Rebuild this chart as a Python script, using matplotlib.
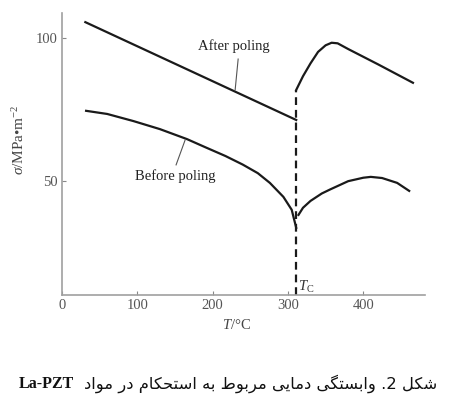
import matplotlib
matplotlib.use("Agg")
import matplotlib.pyplot as plt

# ---- data ----
after_low_T = [31, 311]
after_low_s = [105.4, 71.2]
after_high_T = [311, 320, 330, 340, 350, 358, 366, 380, 420, 466]
after_high_s = [81.7, 86.5, 91.0, 95.0, 97.3, 98.2, 98.0, 96.0, 90.6, 84.2]

before_low_T = [32, 60, 95, 130, 166, 190, 217, 240, 260, 276, 294, 305, 311]
before_low_s = [74.4, 73.3, 70.8, 68.0, 64.5, 61.7, 58.6, 55.6, 52.6, 49.2, 44.3, 39.8, 33.5]
before_high_T = [314, 320, 330, 345, 356, 380, 400, 410, 425, 445, 461]
before_high_s = [38.0, 40.5, 42.9, 45.5, 46.9, 49.8, 51.0, 51.3, 50.9, 49.2, 46.4]

Tc = 311
Tc_top = 81.7
x_ticks = [0, 100, 200, 300, 400]
y_ticks = [50, 100]

plt.rcParams['font.family'] = ['Liberation Serif', 'DejaVu Sans']
plt.rcParams['mathtext.fontset'] = 'custom'
plt.rcParams['mathtext.rm'] = 'Liberation Serif'
plt.rcParams['mathtext.it'] = 'Liberation Serif:italic'

fig = plt.figure(figsize=(4.5, 4.09), dpi=100)
ax = fig.add_axes([62/450, 1-295/409, (425-62)/450, (295-13)/409])
ax.set_xlim(0, 482)
ax.set_ylim(10, 108.6)

lw = 1.6
ax.plot(after_low_T, after_low_s, color='#1a1a1a', lw=lw)
ax.plot(after_high_T, after_high_s, color='#1a1a1a', lw=lw)
ax.plot(before_low_T, before_low_s, color='#1a1a1a', lw=lw)
ax.plot(before_high_T, before_high_s, color='#1a1a1a', lw=lw)
ax.plot([Tc, Tc], [10, Tc_top], color='#1a1a1a', lw=1.6, ls=(0, (3.5, 2.2)))

for s in ['top', 'right']:
    ax.spines[s].set_visible(False)
for s in ['left', 'bottom']:
    ax.spines[s].set_color('#a0a0a0')
    ax.spines[s].set_linewidth(1.2)

ax.set_xticks(x_ticks)
ax.set_yticks(y_ticks)
ax.tick_params(direction='in', length=3, color='#888888', labelcolor='#555555',
               labelsize=10.5, pad=3)

ax.text(228, 97.1, 'After poling', fontsize=10.5, ha='center', va='center', color='#222222')
ax.plot([233.9, 229.9], [92.5, 81.7], color='#555555', lw=0.8)
ax.text(150, 51.6, 'Before poling', fontsize=10.5, ha='center', va='center', color='#222222')
ax.plot([151.5, 163.5], [55.5, 64.2], color='#555555', lw=0.8)
ax.text(314, 12.8, r'$T_{\mathrm{C}}$', fontsize=10.5, ha='left', va='center', color='#333333')

fig.text(236/450, 1-325/409, r'$T$/°C', fontsize=10.5, ha='center', va='center', color='#444444')
fig.text(19/450, 1-140/409, r'$\sigma$/MPa•m$^{-2}$', fontsize=11, ha='center',
         va='center', rotation=90, color='#444444')

# caption (Persian, shaped glyphs in visual order)
words_visual = [
    '\uFEA9\uFE8D\uFEEE\uFEE3',                  # مواد
    '\uFEAD\uFEA9',                              # در
    '\uFEE1\uFE8E\uFB91\uFEA4\uFE98\uFEB3\uFE8D',  # استحکام
    '\uFEEA\uFE91',                              # به
    '\uFEC1\uFEEE\uFE91\uFEAE\uFEE3',            # مربوط
    '\uFBFD\uFBFE\uFE8E\uFEE3\uFEA9',            # دمایی
    '\uFBFD\uFB95\uFE98\uFEB4\uFE91\uFE8D\uFEED',  # وابستگی
    '.2',
    '\uFEDE\uFB91\uFEB7',                        # شکل
]
caption_fa = ' '.join(words_visual)
fig.text(437/450, 1-384/409, caption_fa, fontsize=11.8, ha='right', va='center',
         family='DejaVu Sans', color='#111111')
fig.text(74/450, 1-384/409, 'La-PZT', fontsize=11.5, ha='right', va='center',
         family='Liberation Serif', weight='bold', color='#111111')

fig.savefig('out.png', dpi=100)
